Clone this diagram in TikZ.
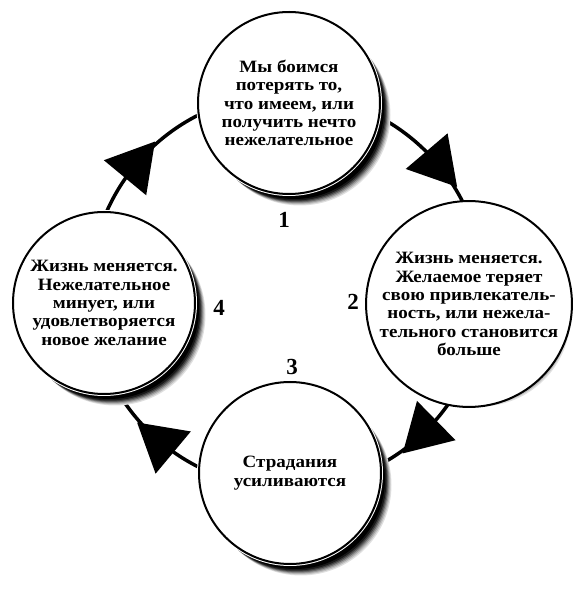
\documentclass[tikz,border=0pt]{standalone}
\usepackage{fontspec}
\setmainfont{Liberation Serif}
\newfontfamily\stagefont[FakeStretch=1.1]{Liberation Serif}
\usetikzlibrary{calc}
\tikzset{
  stage/.style={circle, fill=white, draw=black, line width=2pt, minimum size=182pt,
    inner sep=0pt, align=center, font=\stagefont\bfseries\fontsize{17.3}{18.3}\selectfont},
  cyclenum/.style={font=\bfseries\fontsize{23}{23}\selectfont, inner sep=0pt},
  cycleline/.style={line width=3.5pt, black},
}
\newcommand\stageshadow[1]{%
  \foreach \dx/\dy/\shade in {11/-12/12, 10/-11/25, 9/-10/40, 8/-9/58, 7/-8/75, 6/-7/90}{%
    \fill[black!\shade] ($(#1)+(\dx,\dy)$) circle[radius=90.5];
  }
  \fill[black] ($(#1)+(5,-6)$) circle[radius=90];
  \fill[white] (#1) circle[radius=93];
}
\newcommand\cyclearrow[1]{%
  \fill[shift={(C)}, rotate=#1] (197,-31) -- (224.5,16) -- (169.5,16) -- cycle;
}
\begin{document}
\begin{tikzpicture}[x=1pt,y=1pt]
\useasboundingbox (0,0) rectangle (582,600);
\coordinate (C) at (287,309);
\coordinate (ptop) at (289,497);
\coordinate (pright) at (469,296);
\coordinate (pbottom) at (290,127);
\coordinate (pleft) at (104,297);
% connecting ring
\coordinate (ktop) at ($(C)+(89.4:197)$);
\draw[cycleline] (ktop) arc[start angle=89.4, end angle=-270.6, radius=197];
\cyclearrow{40.4}
\cyclearrow{-45.6}
\cyclearrow{-129.8}
\cyclearrow{140.4}
% shadows
\stageshadow{ptop}
\stageshadow{pright}
\stageshadow{pbottom}
\stageshadow{pleft}
% stages
\node[stage] (top) at (ptop) {Мы боимся\\потерять то,\\что имеем, или\\получить нечто\\нежелательное};
\node[stage] (right) at (pright) {Жизнь меняется.\\Желаемое теряет\\свою привлекатель-\\ность, или нежела-\\тельного становится\\больше};
\node[stage] (bottom) at (pbottom) {Страдания\\усиливаются};
\node[stage] (left) at (pleft) {Жизнь меняется.\\Нежелательное\\минует, или\\удовлетворяется\\новое желание};
% numbers
\node[cyclenum] (n1) at (284,380) {1};
\node[cyclenum] (n2) at (353,298) {2};
\node[cyclenum] (n3) at (292,233) {3};
\node[cyclenum] (n4) at (219,292) {4};
\end{tikzpicture}
\end{document}
